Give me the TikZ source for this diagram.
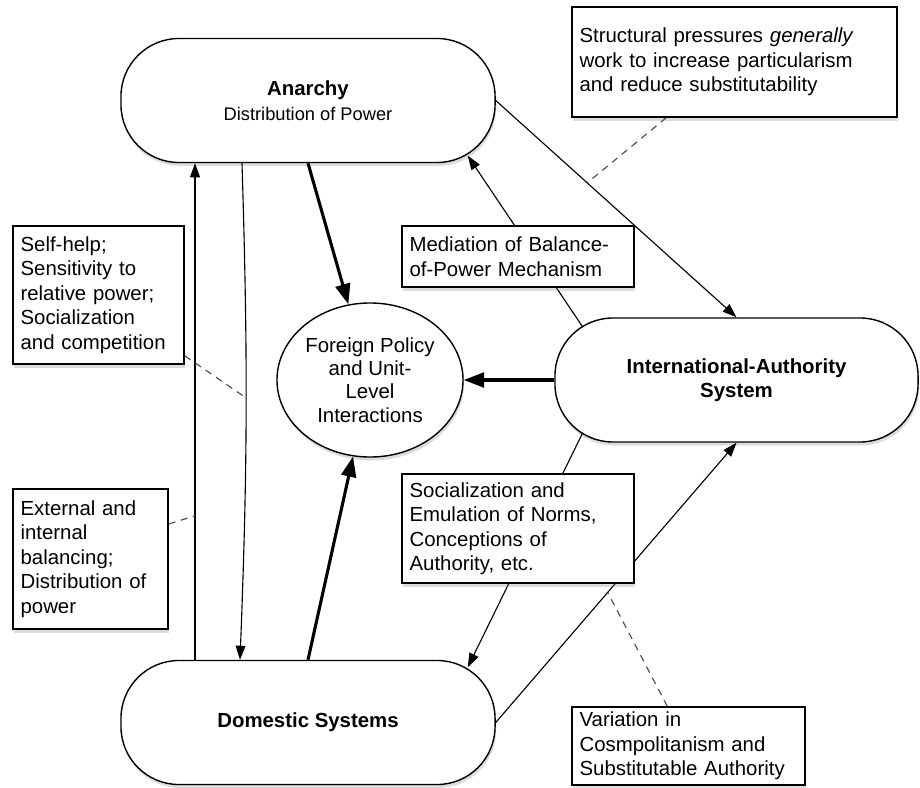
\documentclass[tikz,border=0pt]{standalone}
\usepackage{fontspec}
\setmainfont{Liberation Sans}
\usetikzlibrary{calc,shapes.geometric,shadows,arrows.meta}
\tikzset{
  boxfont/.style={font=\fontsize{14.5}{17.4}\selectfont},
  shade box/.style={drop shadow={opacity=0.28,shadow xshift=0.8pt,shadow yshift=-2.5pt}},
  sysbox/.style={draw, line width=1pt, fill=white, rounded corners=1.45cm, minimum width=9.35cm, minimum height=3.1cm, align=center, boxfont, shade box},
  notebox/.style={draw, line width=1pt, fill=white, align=left, inner xsep=0.19cm, inner ysep=0pt, boxfont, shade box},
  thinarr/.style={line width=0.8pt, -{Triangle[length=10pt,width=7pt]}},
  thickarr/.style={line width=2.2pt, -{Triangle[length=14.5pt,width=10.5pt]}},
  dashlink/.style={line width=0.8pt, black!70, dash pattern=on 5pt off 4pt}
}

\begin{document}
\begin{tikzpicture}[x=0.025cm,y=-0.025cm]
		%%%%% START %%%%%
		\useasboundingbox (0,0) rectangle (920,788);
		
		\node[sysbox] (anarchy) at (308,100.5) {\textbf{Anarchy}\\{\fontsize{13}{16}\selectfont Distribution of Power}};
		\node[sysbox] (domestic) at (308,722.5) {\textbf{Domestic Systems}};
		\node[sysbox, minimum width=9.075cm] (iauth) at (736.5,380) {\textbf{International-Authority}\\\textbf{System}};
		\node[ellipse, draw, line width=1pt, fill=white, minimum width=4.65cm, minimum height=3.85cm, inner sep=0pt, align=center, font=\fontsize{14.5}{16.6}\selectfont, shade box] (fp) at (370,380) {Foreign Policy\\and Unit-\\Level\\Interactions};
		
		% vertical links
		\draw[thinarr] ($(domestic.north)+(-113,0)$) -- coordinate[pos=0.29] (upMid) ($(anarchy.south)+(-113,0)$);
		\draw[thinarr] ($(anarchy.south)+(-66,0)$) to[bend left=2] coordinate[pos=0.47] (downMid) ($(domestic.north)+(-68,0)$);
		
		% into foreign policy
		\draw[thickarr] (anarchy.south) -- (fp);
		\draw[thickarr] (domestic.north) -- (fp);
		\draw[thickarr] (iauth.west) -- (fp.east);
		
		% authority system links
		\draw[thinarr] (anarchy.east) -- coordinate[pos=0.38] (a2iMid) (iauth.north);
		\draw[thinarr] ($(iauth.north west)+(28,9)$) -- ($(anarchy.south east)+(-28,-7.5)$);
		\draw[thinarr] ($(iauth.south west)+(28,-9)$) -- ($(domestic.north east)+(-28,7.5)$);
		\draw[thinarr] (domestic.east) -- coordinate[pos=0.465] (d2iMid) (iauth.south);
		
		% notes
		\node[notebox, minimum width=8.125cm, minimum height=2.75cm, text width=7.745cm] (strBox) at (734.5,62) {Structural pressures \textit{generally}\\work to increase particularism\\and reduce substitutability};
		\node[notebox, minimum width=4.275cm, minimum height=3.45cm, text width=3.895cm] (selfBox) at (98.5,295) {Self-help;\\Sensitivity to\\relative power;\\Socialization\\and competition};
		\node[notebox, minimum width=5.8cm, minimum height=1.525cm, text width=5.42cm] (medBox) at (518,256.5) {Mediation of Balance-\\of-Power Mechanism};
		\node[notebox, minimum width=3.875cm, minimum height=3.5cm, text width=3.495cm] (extBox) at (90.5,559) {External and\\internal\\balancing;\\Distribution of\\power};
		\node[notebox, minimum width=5.8cm, minimum height=2.725cm, text width=5.42cm] (socBox) at (518,528.5) {Socialization and\\Emulation of Norms,\\Conceptions of\\Authority, etc.};
		\node[notebox, minimum width=5.825cm, minimum height=1.95cm, text width=5.445cm] (varBox) at (688.5,746) {Variation in\\Cosmpolitanism and\\Substitutable Authority};
		
		\draw[dashlink] ($(strBox.south west)+(95,0)$) -- (a2iMid);
		\draw[dashlink] ($(selfBox.south east)+(0,-9)$) -- (downMid);
		\draw[dashlink] ($(extBox.east)+(0,-35)$) -- (upMid);
		\draw[dashlink] ($(varBox.north west)+(96,0)$) -- (d2iMid);
		%%%%% END %%%%%
\end{tikzpicture}
\end{document}
